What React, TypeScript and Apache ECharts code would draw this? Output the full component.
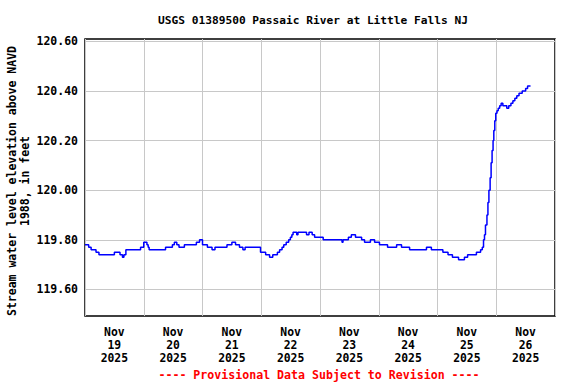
import React, { useEffect, useRef } from "react";
import * as echarts from "echarts";

const titleText = "USGS 01389500 Passaic River at Little Falls NJ";
const yAxisTitle = "Stream water level elevation above NAVD\n1988, in feet";
const footerText = "---- Provisional Data Subject to Revision ----";
const dayLabels = ["Nov\n19\n2025", "Nov\n20\n2025", "Nov\n21\n2025", "Nov\n22\n2025", "Nov\n23\n2025", "Nov\n24\n2025", "Nov\n25\n2025", "Nov\n26\n2025"];
const yTicks = [119.6, 119.8, 120.0, 120.2, 120.4, 120.6];

// hours since Nov 19 2025 00:00
const hours = [
  0, 1.5, 2.5, 4.5, 5.7, 12.0, 14.3, 15.3, 15.9, 16.7, 22.7, 24.0, 25.3, 25.8, 26.2, 32.9, 35.7, 36.5, 37.5, 38.4,
  40.6, 45.5, 46.8, 48.0, 50.0, 51.9, 53.1, 58.0, 60.0, 61.5, 63.1, 64.5, 65.4, 71.7, 73.8, 75.4, 76.7, 78.6, 79.5, 80.5,
  81.2, 82.2, 83.2, 83.9, 84.5, 85.0, 86.5, 87.0, 90.5, 91.5, 92.8, 93.8, 97.3, 105.0, 105.4, 107.6, 108.8, 110.5, 113.0, 114.2,
  116.6, 118.3, 120.3, 123.6, 127.3, 129.3, 132.6, 139.5, 141.5, 146.2, 148.3, 150.1, 152.6, 155.0, 156.3, 159.9, 161.6, 162.3, 162.8, 163.2,
  163.6, 164.2, 164.6, 165.0, 165.5, 165.9, 166.3, 166.7, 167.0, 167.4, 167.8, 168.3, 168.8, 169.4, 170.0, 170.7, 172.3, 173.1, 174.0, 174.8,
  175.6, 176.4, 177.3, 178.6, 180.0, 180.8, 182.0,
];
const levels = [
  119.78, 119.77, 119.76, 119.75, 119.74, 119.75, 119.74, 119.73, 119.74, 119.76, 119.77, 119.79, 119.78, 119.77, 119.76, 119.77, 119.78, 119.79, 119.78, 119.77,
  119.78, 119.79, 119.8, 119.78, 119.77, 119.76, 119.77, 119.78, 119.79, 119.78, 119.77, 119.76, 119.77, 119.75, 119.74, 119.73, 119.74, 119.75, 119.76, 119.77,
  119.78, 119.79, 119.8, 119.81, 119.82, 119.83, 119.82, 119.83, 119.82, 119.83, 119.82, 119.81, 119.8, 119.79, 119.8, 119.81, 119.82, 119.81, 119.8, 119.79,
  119.8, 119.79, 119.78, 119.77, 119.78, 119.77, 119.76, 119.77, 119.76, 119.75, 119.74, 119.73, 119.72, 119.73, 119.74, 119.75, 119.76, 119.77, 119.8, 119.82,
  119.86, 119.9, 119.95, 120.0, 120.05, 120.11, 120.16, 120.2, 120.24, 120.28, 120.31, 120.32, 120.33, 120.34, 120.35, 120.34, 120.33, 120.34, 120.35, 120.36,
  120.37, 120.38, 120.39, 120.4, 120.41, 120.42, 120.42,
];

const FONT = "'DejaVu Sans Mono', monospace";

export default function App() {
  const ref = useRef<HTMLDivElement>(null);
  useEffect(() => {
    if (!ref.current) return;
    const chart = echarts.init(ref.current, null, { renderer: "svg" });
    const data = hours.map((h, i) => [h, levels[i]]);
    chart.setOption({
      animation: false,
      backgroundColor: "#ffffff",
      title: {
        text: titleText,
        left: 308,
        top: 10,
        textAlign: "center",
        textStyle: { fontFamily: FONT, fontWeight: "bold", fontSize: 11.2, color: "#000" },
      },
      grid: {
        left: 85,
        right: 21,
        top: 39,
        bottom: 68,
        show: true,
        borderColor: "#000",
        borderWidth: 1.5,
        backgroundColor: "transparent",
        containLabel: false,
      },
      xAxis: [
        {
          type: "value",
          min: 0,
          max: 192,
          show: false,
          splitLine: { show: false },
        },
        {
          type: "category",
          data: dayLabels,
          boundaryGap: true,
          position: "bottom",
          axisLine: { show: false },
          axisTick: { show: false },
          axisLabel: {
            interval: 0,
            margin: 9,
            fontFamily: FONT,
            fontWeight: "bold",
            fontSize: 11.4,
            lineHeight: 13,
            color: "#000",
          },
          splitLine: { show: true, interval: 0, lineStyle: { color: "#c8c8c8", width: 1 } },
        },
      ],
      yAxis: {
        type: "value",
        min: 119.493,
        max: 120.609,
        axisLine: { show: false },
        axisTick: { show: false, customValues: yTicks },
        axisLabel: {
          customValues: yTicks,
          margin: 7,
          fontFamily: FONT,
          fontWeight: "bold",
          fontSize: 11.5,
          color: "#000",
          formatter: (v: number) => v.toFixed(2),
        },
        splitLine: { show: true, lineStyle: { color: "#c8c8c8", width: 1 } },
      },
      graphic: [
        {
          type: "text",
          x: 18,
          y: 181,
          rotation: Math.PI / 2,
          style: {
            text: yAxisTitle,
            fontFamily: FONT,
            fontWeight: "bold",
            fontSize: 11.5,
            lineHeight: 13,
            fill: "#000",
            align: "center",
            verticalAlign: "middle",
          },
        },
        {
          type: "text",
          x: 319,
          y: 375,
          style: {
            text: footerText,
            fontFamily: FONT,
            fontWeight: "bold",
            fontSize: 11.6,
            fill: "#ff0000",
            align: "center",
            verticalAlign: "middle",
          },
        },
      ],
      series: [
        {
          type: "line",
          xAxisIndex: 0,
          yAxisIndex: 0,
          data,
          step: "end",
          showSymbol: false,
          symbol: "none",
          lineStyle: { color: "#0000ff", width: 1.5 },
          silent: true,
        },
      ],
    });
    return () => chart.dispose();
  }, []);
  return <div ref={ref} style={{ position: "fixed", left: 0, top: 0, width: 576, height: 384 }} />;
}
